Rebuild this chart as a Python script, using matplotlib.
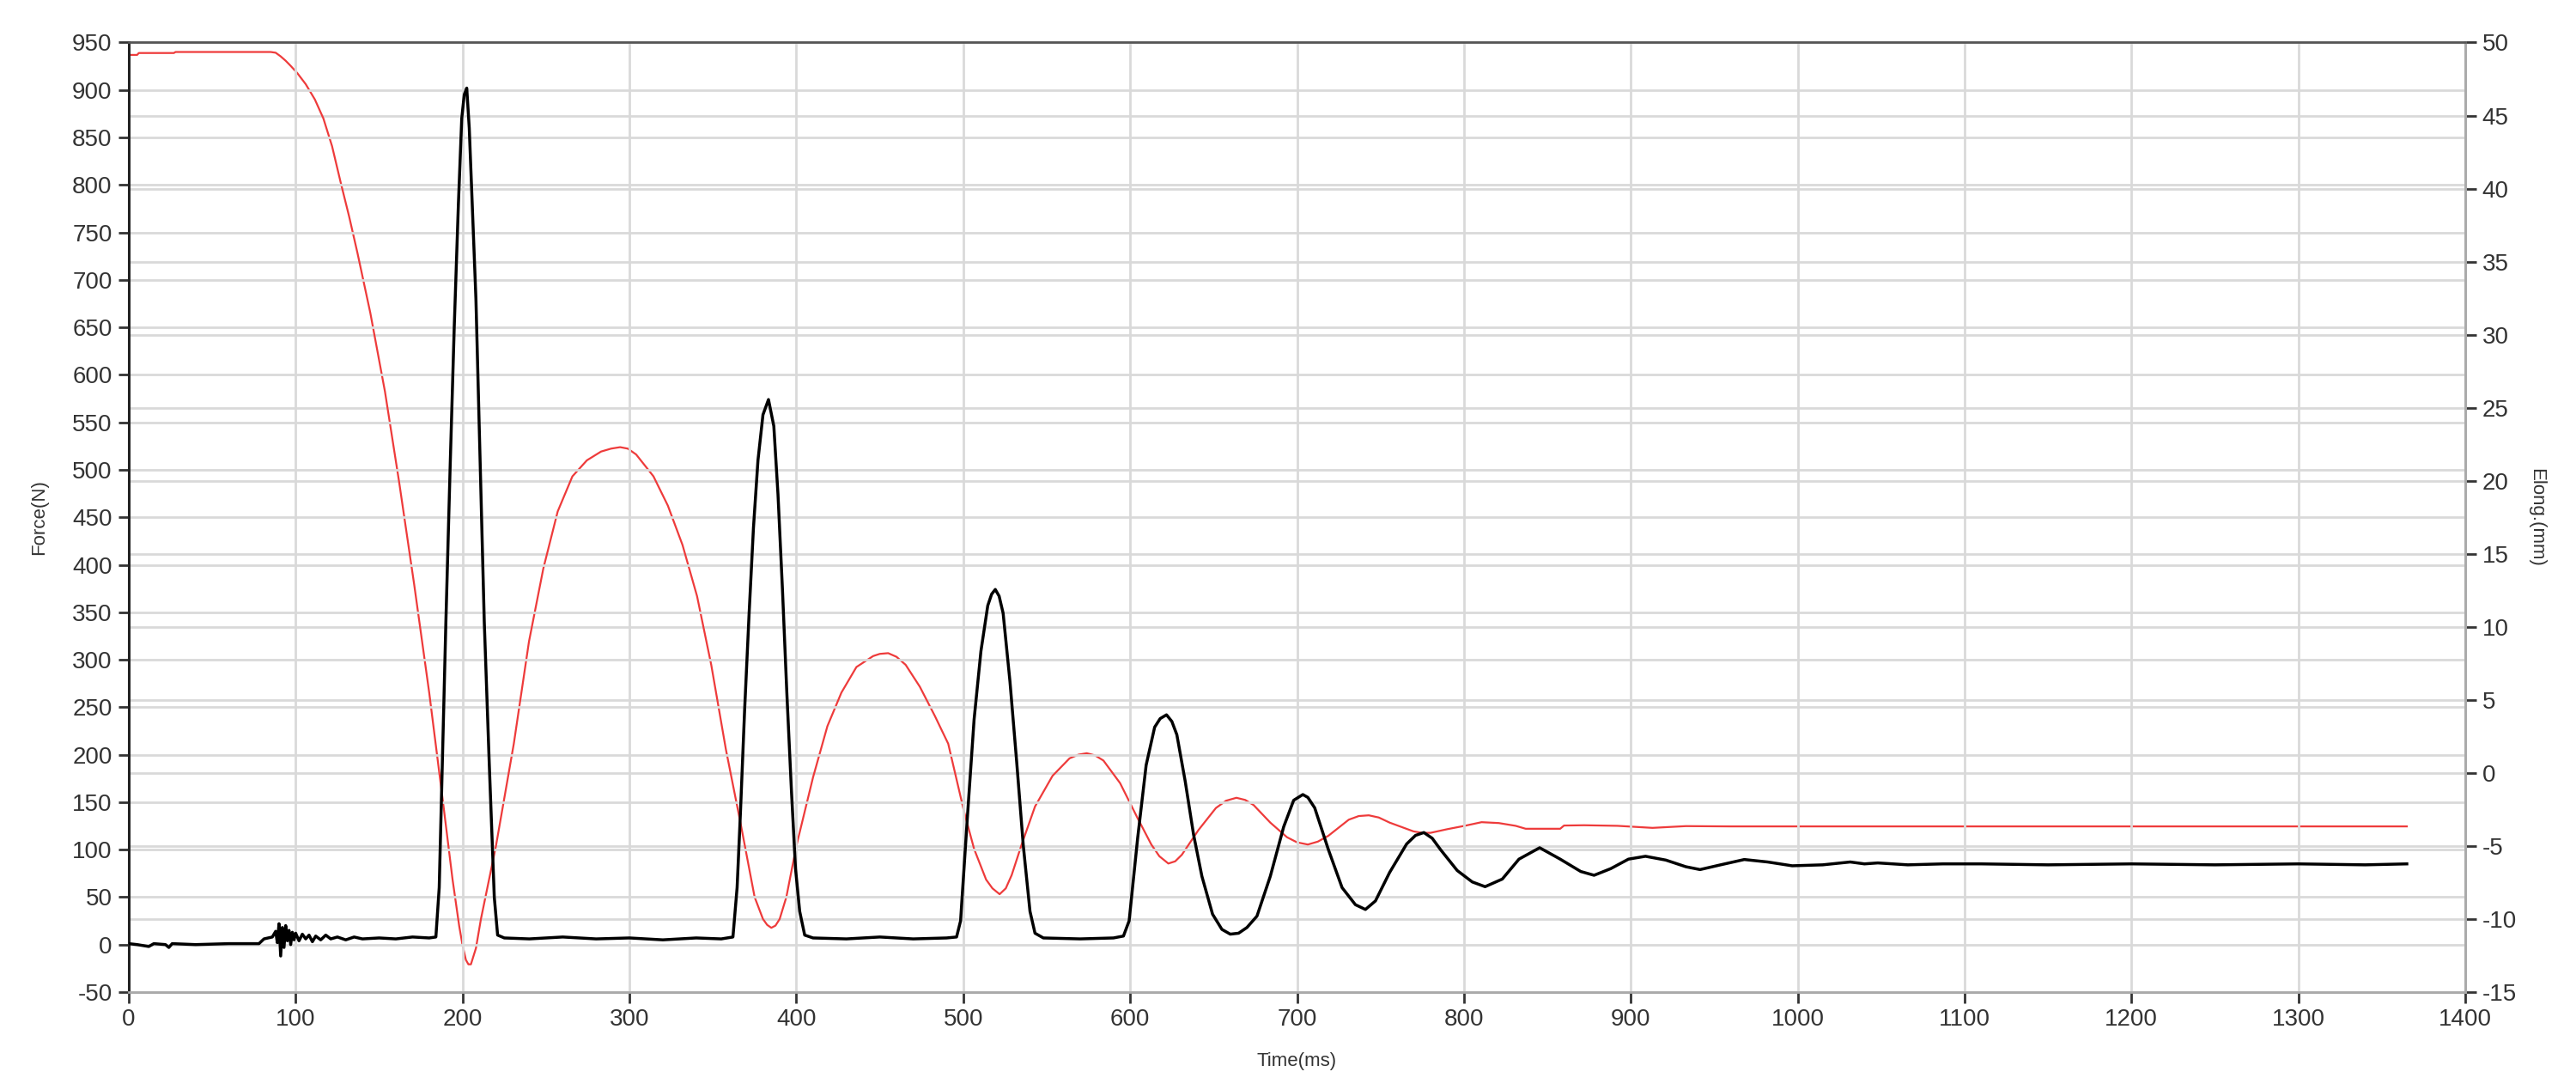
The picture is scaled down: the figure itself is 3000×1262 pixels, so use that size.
#!/usr/bin/env python3
"""Drop test trace: force (left axis) and elongation (right axis) vs time."""

import matplotlib
matplotlib.use("Agg")
import matplotlib.pyplot as plt

plt.rcParams.update({
    "font.family": ["Liberation Sans", "DejaVu Sans"],
    "axes.unicode_minus": False,
})

# force trace (black)
FORCE_T = [0, 5, 12, 15, 22, 24, 26, 40, 60, 78, 81, 86, 88, 89, 90, 91, 92, 93, 94, 95,
           96, 97, 98, 99, 100, 102, 104, 106, 108, 110, 112, 115, 118, 121, 125, 130,
           135, 140, 150, 160, 170, 180, 184,
           186, 188, 190, 192.5, 195, 197.5, 199.5, 201, 202.5, 204, 206, 208, 210.5,
           213, 216, 219, 221,
           225, 240, 260, 280, 300, 320, 340, 355, 362,
           364.5, 366.5, 369, 371.7, 374.3, 377, 380, 383.3, 386.5, 389, 391.7, 394.3,
           397, 399.5, 402, 405, 410, 430, 450, 470, 490, 496,
           498.4, 502.4, 506.5, 510.6, 514.7, 517, 519.2, 521.5, 523.9, 528, 532, 536,
           540, 543, 548, 570, 590, 596,
           599.4, 604.5, 609.6, 614.7, 618, 621.8, 625, 628, 633, 638, 643, 649.4, 655,
           660, 665, 670, 676, 684, 692, 698, 703.5, 706.5, 710.6, 718.8, 727, 735, 741,
           747, 755.5, 765.7, 771, 776, 781, 786, 796, 805, 812.7, 823, 833, 845.4,
           857.7, 870, 878, 888, 898.6, 908.8, 921, 933, 941.5, 953.8, 968, 982, 996.7,
           1015, 1031.5, 1040, 1048, 1066, 1087, 1110, 1150, 1200, 1250, 1300, 1340, 1365]
FORCE_N = [1, 0, -2, 1, 0, -3, 1, 0, 1, 1, 6, 8, 14, 2, 22, -12, 18, -3, 20, 4,
           15, 0, 13, 5, 12, 4, 11, 6, 10, 3, 9, 5, 10, 6, 8, 5,
           8, 6, 7, 6, 8, 7, 8,
           60, 200, 340, 500, 650, 780, 870, 895, 902, 860, 770, 680, 510,
           340, 190, 50, 10,
           7, 6, 8, 6, 7, 5, 7, 6, 8,
           60, 139, 247, 349, 439, 510, 558, 574, 546, 474, 373, 265,
           164, 80, 35, 10, 7, 6, 8, 6, 7, 8,
           25, 132, 237, 309, 357, 369, 374, 367, 349, 277, 193, 104,
           35, 12, 7, 6, 7, 9,
           25, 112, 189, 229, 238, 242, 235, 221, 172, 116, 72, 32, 16,
           11, 12, 18, 30, 72, 124, 152, 158, 155, 144, 100, 60, 42, 37,
           46, 76, 106, 115, 118, 112, 100, 78, 66, 61, 69, 90, 102,
           90, 77, 73, 80, 90, 93, 89, 82, 79, 84, 89.6, 87, 83,
           84, 87, 85, 86, 84, 85, 85, 84, 85, 84, 85, 84, 85]

# elongation trace (red)
ELONG_T = [0, 5, 6, 27, 28, 85, 88, 91, 94, 97, 101, 106, 111.5, 116.6, 121.8, 127, 132,
           137, 144.7, 153.5, 162, 171, 180, 188.6, 194, 198, 200, 202, 203.5, 205, 208,
           211, 220, 230.7, 239.8, 248.4, 257, 265.8, 274.5, 283, 289, 294.4, 299, 304,
           314.4, 323, 331.8, 340.5, 349, 357.8, 366.5, 375, 380, 382.5, 385, 387.5, 390,
           394, 400, 410, 418.6, 427, 436, 446, 450, 455, 460, 465.5, 474, 483, 491,
           500.4, 506.5, 513.7, 517.5, 521.8, 525.5, 529, 535, 543, 553.5, 563.7, 569,
           574, 579, 584, 594, 604.5, 612.7, 617.5, 622.9, 627, 631, 641, 651.4, 657.5,
           663.7, 669, 674, 684, 694, 700, 706.5, 712.5, 718.8, 731, 737, 743, 749,
           755.5, 769.8, 775, 780, 790, 800.4, 810.6, 820.9, 831, 837, 857.7, 860, 872,
           892, 913, 933, 960, 1365]
ELONG_MM = [49.15, 49.15, 49.28, 49.28, 49.35, 49.35, 49.3, 49.05, 48.75, 48.4, 47.9, 47.15,
            46.1, 44.8, 42.9, 40.4, 38.1, 35.6, 31.5, 26.1, 19.9, 12.9, 5.5, -2.3, -7.3,
            -10.5, -11.8, -12.8, -13.1, -13.1, -12.0, -10.0, -5.0, 2.0, 9.0, 14.0, 17.9,
            20.3, 21.4, 22.0, 22.2, 22.3, 22.2, 21.8, 20.3, 18.3, 15.6, 12.1, 7.4, 1.6,
            -3.4, -8.5, -10.0, -10.4, -10.6, -10.45, -10.0, -8.5, -5.0, -0.3, 3.2, 5.5,
            7.25, 8.0, 8.15, 8.2, 7.95, 7.4, 5.9, 3.9, 2.0, -2.6, -5.2, -7.3, -7.9, -8.3,
            -7.9, -7.0, -4.9, -2.3, -0.2, 1.0, 1.25, 1.35, 1.2, 0.85, -0.7, -3.1, -4.9,
            -5.7, -6.2, -6.05, -5.6, -3.9, -2.4, -1.9, -1.7, -1.85, -2.2, -3.4, -4.4,
            -4.75, -4.9, -4.7, -4.3, -3.2, -2.95, -2.9, -3.05, -3.4, -4.0, -4.1, -4.1,
            -3.85, -3.62, -3.37, -3.43, -3.62, -3.82, -3.82, -3.6, -3.58, -3.62, -3.76,
            -3.64, -3.66, -3.66]

X_TICKS = list(range(0, 1401, 100))
F_TICKS = list(range(-50, 951, 50))
E_TICKS = list(range(-15, 51, 5))

INK = "#333333"
GRID = "#d9d9d9"

fig = plt.figure(figsize=(30, 12.62), dpi=100)
ax = fig.add_axes([0.05, 0.0848, 0.907, 0.876])
ax2 = ax.twinx()
ax.set_zorder(ax2.get_zorder() + 1)
ax.patch.set_visible(False)

ax.plot(FORCE_T, FORCE_N, color="black", lw=2.5, zorder=3)
ax2.plot(ELONG_T, ELONG_MM, color="#ee3b3b", lw=1.6, zorder=3)

ax.set_xlim(0, 1400)
ax.set_ylim(-50, 950)
ax2.set_ylim(-15, 50)
ax.set_xticks(X_TICKS)
ax.set_yticks(F_TICKS)
ax2.set_yticks(E_TICKS)

for a in (ax, ax2):
    a.grid(True, color=GRID, lw=2.0)
    a.set_axisbelow(True)
    a.tick_params(length=9, width=2, color=INK, labelsize=20, labelcolor=INK, pad=5)
ax2.grid(axis="x", visible=False)

ax.spines["left"].set_color("#222222")
ax.spines["left"].set_linewidth(2.2)
ax.spines["top"].set_color("#555555")
ax.spines["top"].set_linewidth(2.0)
for a in (ax, ax2):
    a.spines["right"].set_color("#aaaaaa")
    a.spines["right"].set_linewidth(2.0)
    a.spines["bottom"].set_color("#aaaaaa")
    a.spines["bottom"].set_linewidth(2.0)

ax.set_xlabel("Time(ms)", fontsize=16, color=INK, labelpad=18)
ax.set_ylabel("Force(N)", fontsize=16, color=INK, labelpad=20)
ax2.set_ylabel("Elong.(mm)", fontsize=16, color=INK, rotation=270, labelpad=24)

fig.savefig("out.png", dpi=100)
